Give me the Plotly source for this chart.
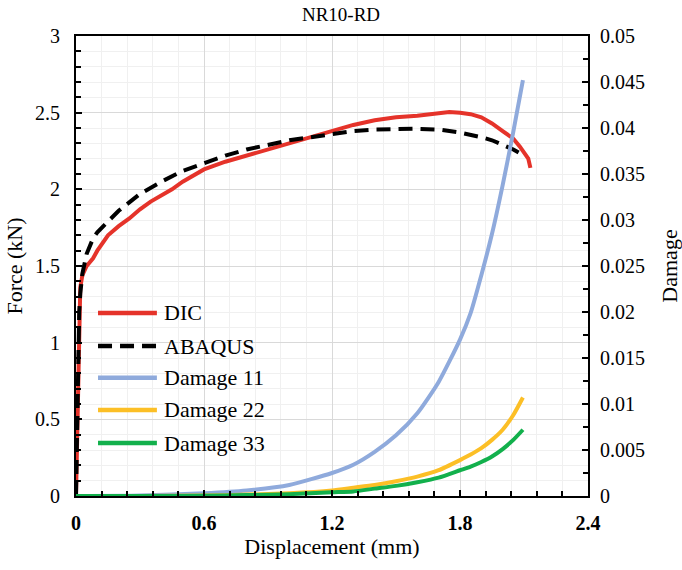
import plotly.graph_objects as go

# ---- data ----
dic_x = [0, 0.005, 0.01, 0.015, 0.02, 0.03, 0.05, 0.08, 0.1, 0.15, 0.2, 0.25, 0.3, 0.35, 0.4, 0.45, 0.5, 0.55,
         0.6, 0.7, 0.8, 0.9, 1.0, 1.1, 1.2, 1.3, 1.4, 1.5, 1.6, 1.7, 1.75, 1.8, 1.85, 1.9, 1.95, 2.0, 2.05,
         2.08, 2.1, 2.12, 2.13]
dic_y = [0, 0.4, 0.9, 1.2, 1.36, 1.44, 1.5, 1.55, 1.6, 1.7, 1.76, 1.81, 1.87, 1.92, 1.96, 2.0, 2.05, 2.09,
         2.13, 2.18, 2.22, 2.26, 2.3, 2.34, 2.38, 2.42, 2.45, 2.47, 2.48, 2.5, 2.505, 2.5, 2.49, 2.47, 2.43,
         2.38, 2.33, 2.28, 2.24, 2.2, 2.14]

abq_x = [0, 0.003, 0.006, 0.01, 0.015, 0.02, 0.03, 0.05, 0.08, 0.1, 0.15, 0.2, 0.3, 0.4, 0.5, 0.6, 0.7, 0.8,
         0.9, 1.0, 1.1, 1.2, 1.3, 1.4, 1.5, 1.6, 1.7, 1.8, 1.9, 1.95, 2.0, 2.05, 2.1]
abq_y = [0, 0.3, 0.7, 1.0, 1.2, 1.32, 1.45, 1.58, 1.68, 1.72, 1.79, 1.86, 1.97, 2.05, 2.12, 2.17, 2.22, 2.26,
         2.29, 2.32, 2.34, 2.36, 2.38, 2.39, 2.395, 2.395, 2.39, 2.37, 2.34, 2.32, 2.29, 2.26, 2.22]

dmg_x = [0, 0.3, 0.6, 0.8, 1.0, 1.2, 1.3, 1.4, 1.5, 1.6, 1.7, 1.8, 1.85, 1.9, 1.95, 2.0, 2.05, 2.095]
dmg11 = [0, 0.00005, 0.0003, 0.0006, 0.0012, 0.0025, 0.0034, 0.0048, 0.0066, 0.0090, 0.0124, 0.0170, 0.0199,
         0.0240, 0.0285, 0.0338, 0.0396, 0.0452]
dmg22 = [0, 0, 0.00005, 0.00015, 0.0003, 0.0006, 0.0009, 0.0012, 0.0016, 0.0021, 0.0028, 0.0039, 0.0045,
         0.0052, 0.0061, 0.0072, 0.0088, 0.0107]
dmg33 = [0, 0, 0.00003, 0.0001, 0.0002, 0.0004, 0.0005, 0.0008, 0.0011, 0.0015, 0.0020, 0.0028, 0.0032,
         0.0037, 0.0043, 0.0051, 0.0061, 0.0072]

series_names = ["DIC", "ABAQUS", "Damage 11", "Damage 22", "Damage 33"]
series_colors = ["#E5332A", "black", "#8FAADC", "#FCBF26", "#12B04C"]
series_dash = ["solid", "14px,8px", "solid", "solid", "solid"]

font = "Times New Roman, Liberation Serif, Times, serif"

fig = go.Figure()
fig.add_trace(go.Scatter(x=dic_x, y=dic_y, name=series_names[0], mode="lines", showlegend=False,
                         line=dict(color=series_colors[0], width=4)))
fig.add_trace(go.Scatter(x=abq_x, y=abq_y, name=series_names[1], mode="lines", showlegend=False,
                         line=dict(color=series_colors[1], width=4, dash=series_dash[1])))
for nm, yy, col in zip(series_names[2:], [dmg11, dmg22, dmg33], series_colors[2:]):
    fig.add_trace(go.Scatter(x=dmg_x, y=yy, name=nm, mode="lines", yaxis="y2", showlegend=False,
                             line=dict(color=col, width=4, shape="spline", smoothing=0.6)))

# manual legend (long line samples as in the original)
leg_y = [0.398, 0.326, 0.257, 0.187, 0.115]
for nm, col, ds, yy in zip(series_names, series_colors, series_dash, leg_y):
    fig.add_shape(type="line", xref="paper", yref="paper", x0=0.043, x1=0.158, y0=yy, y1=yy,
                  line=dict(color=col, width=4.5, dash=ds))
    fig.add_annotation(xref="paper", yref="paper", x=0.168, y=yy, text=nm, showarrow=False,
                       xanchor="left", yanchor="middle",
                       font=dict(family=font, size=22, color="black"))

axis_common = dict(showline=True, linecolor="black", linewidth=2, ticks="inside", ticklen=6,
                   tickcolor="black", tickwidth=2, zeroline=False, automargin=False)

fig.update_layout(
    width=682, height=570,
    margin=dict(l=76, r=94, t=36, b=74),
    paper_bgcolor="white", plot_bgcolor="white",
    title=dict(text="NR10-RD", x=0.5, xanchor="center", y=0.975, yanchor="middle",
               font=dict(family=font, size=19, color="black")),
    font=dict(family=font, color="black"),
    showlegend=False,
    xaxis=dict(range=[0, 2.4], tick0=0, dtick=0.6, mirror=True,
               tickvals=[0, 0.6, 1.2, 1.8, 2.4], ticktext=["<b>0</b>", "<b>0.6</b>", "<b>1.2</b>", "<b>1.8</b>", "<b>2.4</b>"],
               tickfont=dict(family=font, size=20, color="black"), ticklabelstandoff=8,
               showgrid=True, gridcolor="#D9D9D9", gridwidth=1,
               minor=dict(dtick=0.12, showgrid=True, gridcolor="#F0F0F0", ticks="inside",
                          ticklen=5, tickcolor="black", tickwidth=2),
               title=dict(text="Displacement (mm)", font=dict(family=font, size=22), standoff=6),
               **axis_common),
    yaxis=dict(range=[0, 3], tick0=0, dtick=0.5, mirror=True,
               tickfont=dict(family=font, size=20, color="black"), ticklabelstandoff=10,
               showgrid=True, gridcolor="#D9D9D9", gridwidth=1,
               minor=dict(dtick=0.1, showgrid=True, gridcolor="#F0F0F0", ticks="inside",
                          ticklen=5, tickcolor="black", tickwidth=2),
               title=dict(text="Force (kN)", font=dict(family=font, size=22), standoff=6),
               **axis_common),
    yaxis2=dict(range=[0, 0.05], tick0=0, dtick=0.005, overlaying="y", side="right",
                tickfont=dict(family=font, size=20, color="black"), ticklabelstandoff=6,
                showgrid=False,
                minor=dict(dtick=0.0025, ticks="inside", ticklen=5, tickcolor="black", tickwidth=2),
                title=dict(text="Damage", font=dict(family=font, size=22), standoff=18),
                **axis_common),
)

fig.write_html("out.html")
